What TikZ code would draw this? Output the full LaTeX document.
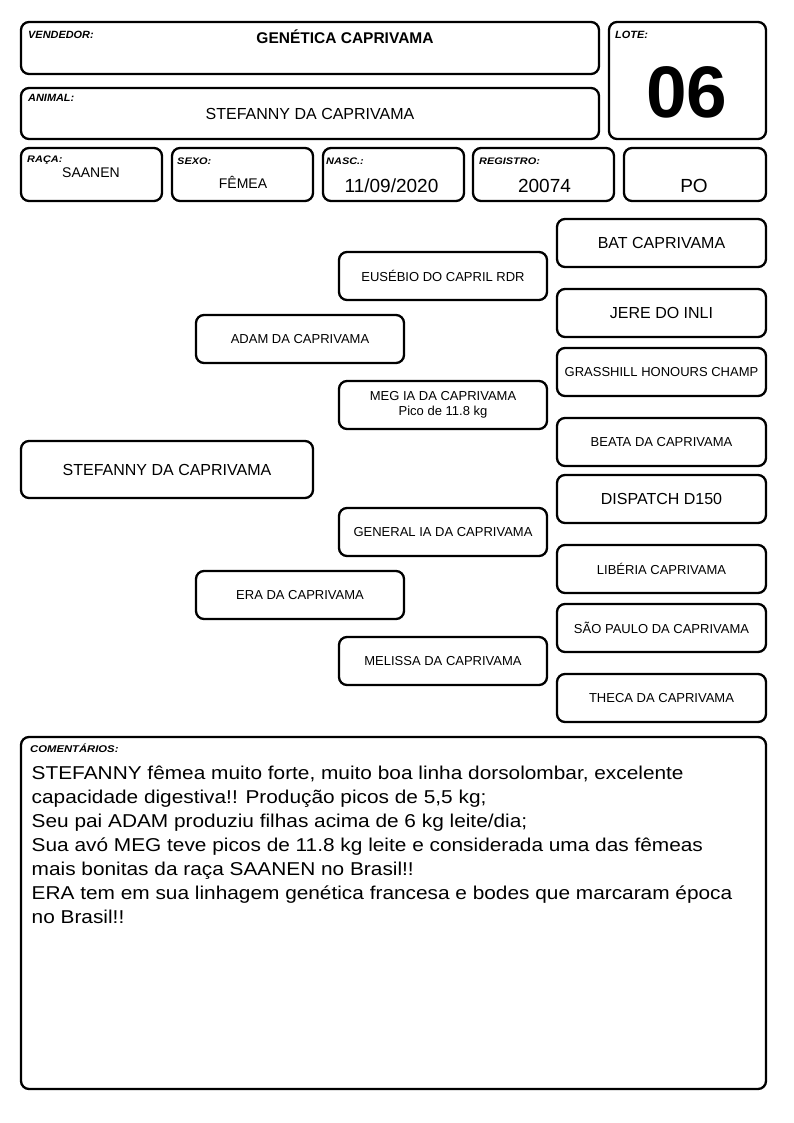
\documentclass[tikz,border=0pt]{standalone}
\usepackage{fontspec}
\setmainfont{Liberation Sans}
\usepackage{tikz}

\begin{document}
\begin{tikzpicture}[x=1pt,y=-1pt,line join=round,
  box/.style={draw,line width=2.3pt,rounded corners=8pt,inner sep=0pt,align=center},
  tag/.style={anchor=base west,inner sep=0pt,xscale=1.15,font=\bfseries\itshape\fontsize{9.5}{10}\selectfont},
  bigtag/.style={anchor=base west,inner sep=0pt,xscale=1.04,font=\bfseries\itshape\fontsize{10.5}{12}\selectfont},
  val/.style={anchor=base,inner sep=0pt,font=\fontsize{19}{22}\selectfont},
  ped/.style={box,minimum width=208pt,minimum height=48pt,font=\fontsize{13}{15}\selectfont},
  pedbig/.style={ped,font=\fontsize{16}{18}\selectfont}]
\useasboundingbox (0,0) rectangle (794,1123);
% header
\node[box,minimum width=578pt,minimum height=52pt] (vend) at (310,48) {};
\node[box,minimum width=578pt,minimum height=51pt] (anim) at (310,113.5) {};
\node[box,minimum width=157pt,minimum height=117pt] (lote) at (687.5,80.5) {};
\node[bigtag] (vendtag) at (28,39) {VENDEDOR:};
\node[bigtag] (animtag) at (28,102) {ANIMAL:};
\node[bigtag] (lotetag) at (615,39) {LOTE:};
\node[val,font=\bfseries\fontsize{15.5}{18}\selectfont] (vendval) at (345,43.5) {GENÉTICA CAPRIVAMA};
\node[val,font=\fontsize{16}{18}\selectfont] (animval) at (310,119.5) {STEFANNY DA CAPRIVAMA};
\node[val,font=\bfseries\fontsize{73}{80}\selectfont] (loteval) at (687,118) {06};
% dados
\node[box,minimum width=141pt,minimum height=53pt] (raca) at (91.5,174.5) {};
\node[box,minimum width=141pt,minimum height=53pt] (sexo) at (242.5,174.5) {};
\node[box,minimum width=141pt,minimum height=53pt] (nasc) at (393.5,174.5) {};
\node[box,minimum width=141pt,minimum height=53pt] (reg) at (543.5,174.5) {};
\node[box,minimum width=142pt,minimum height=53pt] (po) at (695,174.5) {};
\node[tag] (racatag) at (27,163) {RAÇA:};
\node[tag] (sexotag) at (177,165) {SEXO:};
\node[tag] (nasctag) at (326,165) {NASC.:};
\node[tag] (regtag) at (479,165) {REGISTRO:};
\node[val,font=\fontsize{14}{16}\selectfont] (racaval) at (91,178) {SAANEN};
\node[val,font=\fontsize{14}{16}\selectfont] (sexoval) at (243,189) {FÊMEA};
\node[val] (nascval) at (391.5,192.5) {11/09/2020};
\node[val] (regval) at (544.5,192.5) {20074};
\node[val] (poval) at (694,192.5) {PO};
% genealogia
\node[box,minimum width=292pt,minimum height=57pt,font=\fontsize{16}{18}\selectfont] (stef) at (167,469.5) {STEFANNY DA CAPRIVAMA};
\node[ped] (adam) at (300,339) {ADAM DA CAPRIVAMA};
\node[ped] (era) at (300,595) {ERA DA CAPRIVAMA};
\node[ped] (eus) at (443,276) {EUSÉBIO DO CAPRIL RDR};
\node[ped] (meg) at (443,405) {MEG IA DA CAPRIVAMA\\Pico de 11.8 kg};
\node[ped] (gen) at (443,532) {GENERAL IA DA CAPRIVAMA};
\node[ped] (mel) at (443,661) {MELISSA DA CAPRIVAMA};
\node[pedbig,minimum width=209pt] (bat) at (661.5,243) {BAT CAPRIVAMA};
\node[pedbig,minimum width=209pt] (jere) at (661.5,313) {JERE DO INLI};
\node[ped,minimum width=209pt] (grass) at (661.5,372) {GRASSHILL HONOURS CHAMP};
\node[ped,minimum width=209pt] (beata) at (661.5,442) {BEATA DA CAPRIVAMA};
\node[pedbig,minimum width=209pt] (disp) at (661.5,499) {DISPATCH D150};
\node[ped,minimum width=209pt] (lib) at (661.5,569) {LIBÉRIA CAPRIVAMA};
\node[ped,minimum width=209pt] (sao) at (661.5,628) {SÃO PAULO DA CAPRIVAMA};
\node[ped,minimum width=209pt] (theca) at (661.5,698) {THECA DA CAPRIVAMA};
% comentarios
\node[box,minimum width=745pt,minimum height=352pt] (com) at (393.5,913) {};
\node[tag,font=\bfseries\itshape\fontsize{9.8}{11}\selectfont] (comtag) at (30,752.5) {COMENTÁRIOS:};
\node[anchor=base west,inner sep=0pt,align=left,xscale=1.12,font=\fontsize{18.6}{24}\selectfont] (comtxt) at (31.5,923.5)
  {STEFANNY fêmea muito forte, muito boa linha dorsolombar, excelente\\
   capacidade digestiva!! Produção picos de 5,5 kg;\\
   Seu pai ADAM produziu filhas acima de 6 kg leite/dia;\\
   Sua avó MEG teve picos de 11.8 kg leite e considerada uma das fêmeas\\
   mais bonitas da raça SAANEN no Brasil!!\\
   ERA tem em sua linhagem genética francesa e bodes que marcaram época\\
   no Brasil!!};
\end{tikzpicture}
\end{document}
